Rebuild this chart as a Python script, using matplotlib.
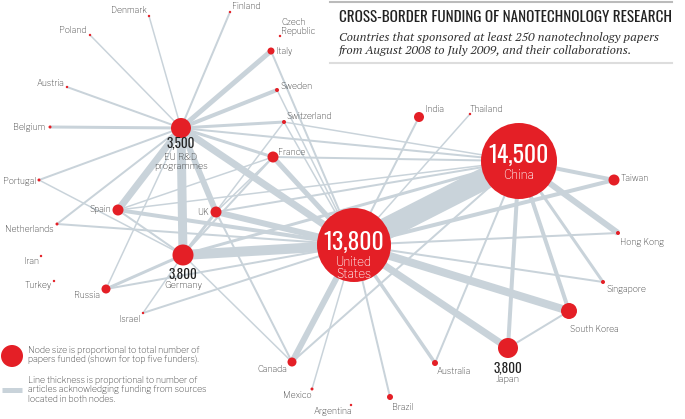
import matplotlib
matplotlib.use('Agg')
import matplotlib.pyplot as plt
from matplotlib.patches import Circle

RED = '#e41f26'
EDGE = '#c9d3da'
GREY = '#3c3c3c'

# nodes: name, x, y (layout), relative node size
names = ['China', 'United States', 'EU R&D programmes', 'Germany', 'Japan', 'South Korea',
         'Spain', 'UK', 'France', 'Italy', 'Sweden', 'Switzerland', 'Czech Republic',
         'Finland', 'Denmark', 'Poland', 'Austria', 'Belgium', 'Portugal', 'Netherlands',
         'Iran', 'Turkey', 'Russia', 'Israel', 'Canada', 'Mexico', 'Argentina', 'Brazil',
         'Australia', 'India', 'Thailand', 'Taiwan', 'Hong Kong', 'Singapore']
node_x = [519, 354, 181, 183, 508, 569, 118, 216, 273, 271, 277, 284, 280, 230, 149, 90,
          67, 50, 39, 57, 41, 54, 106, 143, 292, 312, 351, 390, 435, 419, 470, 614, 618, 603]
node_y = [161, 245, 128, 255, 348, 311, 210, 212, 157, 51, 90, 122, 36, 12, 16, 35,
          87, 127, 180, 224, 256, 281, 289, 313, 362, 389, 405, 397, 363, 117, 114, 180, 233, 282]
node_r = [38, 37, 10, 10.5, 10, 8, 5.5, 5.5, 5.5, 3.5, 2, 2, 1.2, 1.2, 1.2, 1.2,
          1.2, 1.5, 1.5, 1.5, 1.2, 1.2, 4.5, 1.2, 4.5, 1.5, 1.2, 3, 3, 5, 1.2, 5.5, 2, 2]

# top five funders (papers)
top_papers = {'China': '14,500', 'United States': '13,800', 'EU R&D programmes': '3,500',
              'Germany': '3,800', 'Japan': '3,800'}

# collaborations: (a, b, relative thickness)
edges = [
    ('United States', 'China', 22),
    ('EU R&D programmes', 'Germany', 9), ('United States', 'Germany', 10),
    ('EU R&D programmes', 'United States', 7), ('EU R&D programmes', 'Spain', 7),
    ('EU R&D programmes', 'UK', 6), ('United States', 'UK', 6),
    ('EU R&D programmes', 'Italy', 5), ('EU R&D programmes', 'Sweden', 4),
    ('EU R&D programmes', 'Switzerland', 3), ('EU R&D programmes', 'France', 3),
    ('EU R&D programmes', 'Belgium', 3), ('EU R&D programmes', 'Austria', 2),
    ('EU R&D programmes', 'Finland', 2), ('EU R&D programmes', 'Denmark', 1.5),
    ('EU R&D programmes', 'Poland', 1.5), ('EU R&D programmes', 'Portugal', 2),
    ('EU R&D programmes', 'Netherlands', 2), ('EU R&D programmes', 'China', 2),
    ('EU R&D programmes', 'Russia', 1.5),
    ('United States', 'France', 5), ('United States', 'Spain', 4),
    ('United States', 'Italy', 2), ('United States', 'Sweden', 1.5),
    ('United States', 'Switzerland', 1.5), ('United States', 'Canada', 6),
    ('United States', 'Mexico', 1.5), ('United States', 'Brazil', 2),
    ('United States', 'Australia', 3.5), ('United States', 'Japan', 7),
    ('United States', 'South Korea', 8), ('United States', 'Singapore', 2),
    ('United States', 'Hong Kong', 2), ('United States', 'Taiwan', 4),
    ('United States', 'India', 2), ('United States', 'Thailand', 1.5),
    ('United States', 'Russia', 2), ('United States', 'Israel', 2),
    ('United States', 'Netherlands', 2),
    ('China', 'Taiwan', 4), ('China', 'Hong Kong', 6), ('China', 'Singapore', 3),
    ('China', 'South Korea', 4), ('China', 'Japan', 4), ('China', 'Australia', 2),
    ('China', 'Canada', 2), ('China', 'Germany', 3), ('China', 'UK', 2),
    ('China', 'France', 2), ('China', 'Switzerland', 1.5), ('China', 'Spain', 1.5),
    ('Japan', 'South Korea', 2),
    ('Germany', 'Russia', 3), ('Germany', 'Israel', 1.5), ('Germany', 'Canada', 1.5),
    ('Germany', 'Spain', 2), ('Germany', 'UK', 3), ('Germany', 'Portugal', 1.5),
    ('Germany', 'Switzerland', 1.5), ('Germany', 'France', 2),
    ('UK', 'Canada', 2), ('UK', 'France', 1.5), ('Spain', 'France', 1.5),
]

# label placement: offset from node (px), horizontal alignment
label_pos = {
    'Denmark': (-2, -6, 'right'), 'Finland': (2, -6, 'left'), 'Poland': (-3, -5, 'right'),
    'Czech Republic': (1, -9, 'left'), 'Italy': (5, 0, 'left'), 'Sweden': (3, -4, 'left'),
    'Switzerland': (2, -6, 'left'), 'Austria': (-3, -4, 'right'), 'Belgium': (-5, 0, 'right'),
    'Portugal': (-3, 1, 'right'), 'Netherlands': (-3, 5, 'right'), 'Iran': (-2, 5, 'right'),
    'Turkey': (-2, 5, 'right'), 'Russia': (-6, 7, 'right'), 'Israel': (-3, 7, 'right'),
    'Spain': (-7, -1, 'right'), 'UK': (-7, 0, 'right'), 'France': (5, -5, 'left'),
    'Canada': (-20, 8, 'center'), 'Mexico': (-15, 6, 'center'), 'Argentina': (-18, 6, 'center'),
    'Brazil': (2, 11, 'left'), 'Australia': (2, 9, 'left'), 'South Korea': (25, 18, 'center'),
    'Singapore': (3, 8, 'left'), 'Hong Kong': (2, 9, 'left'), 'Taiwan': (7, -2, 'left'),
    'India': (6, -8, 'left'), 'Thailand': (0, -5, 'left'),
}

fig = plt.figure(figsize=(6.85, 4.19), dpi=100)
ax = fig.add_axes([0, 0, 1, 1])
ax.set_xlim(0, 685)
ax.set_ylim(419, 0)
ax.set_aspect('equal')
ax.axis('off')

idx = {n: i for i, n in enumerate(names)}
px = 0.72  # one pixel in points

for a, b, w in sorted(edges, key=lambda e: e[2]):
    i, j = idx[a], idx[b]
    ax.plot([node_x[i], node_x[j]], [node_y[i], node_y[j]], color=EDGE,
            lw=w * px, solid_capstyle='butt', zorder=1)

for n, x, y, r in zip(names, node_x, node_y, node_r):
    ax.add_patch(Circle((x, y), r, color=RED, lw=0, zorder=3))

sans = ['Libre Franklin', 'DejaVu Sans']
narrow = ['Oswald', 'Roboto Condensed', 'DejaVu Sans']

for n, (dx, dy, ha) in label_pos.items():
    i = idx[n]
    txt = 'Czech\nRepublic' if n == 'Czech Republic' else n
    ax.text(node_x[i] + dx, node_y[i] + dy, txt, ha=ha, va='center', fontsize=6.2,
            color=GREY, family=sans, linespacing=0.95, zorder=4)

# big nodes with white text inside
for n, sub, dy1, dy2 in [('China', 'China', -6, 14), ('United States', 'United\nStates', -3, 23)]:
    i = idx[n]
    ax.text(node_x[i], node_y[i] + dy1, top_papers[n], ha='center', va='center', fontsize=17,
            fontweight='bold', color='white', family=narrow, zorder=5)
    ax.text(node_x[i], node_y[i] + dy2, sub, ha='center', va='center', fontsize=8.5,
            color='white', family=sans, linespacing=0.95, zorder=5)

# smaller top funders with numbers below
for n, sub, dy in [('EU R&D programmes', 'EU R&D\nprogrammes', 15), ('Germany', 'Germany', 19),
                   ('Japan', 'Japan', 20)]:
    i = idx[n]
    ax.text(node_x[i], node_y[i] + dy, top_papers[n], ha='center', va='center', fontsize=9.5,
            fontweight='bold', color='#222222', family=narrow, zorder=5)
    ax.text(node_x[i], node_y[i] + dy + (19 if '\n' in sub else 12), sub, ha='center',
            va='center', fontsize=6.5, color=GREY, family=sans, linespacing=0.95, zorder=5)

# title block
ax.plot([330, 672], [2, 2], color='#bbbbbb', lw=1.5, zorder=6)
ax.plot([330, 672], [63, 63], color='#dddddd', lw=1.5, zorder=6)
ax.text(339, 17, 'CROSS-BORDER FUNDING OF NANOTECHNOLOGY RESEARCH', ha='left', va='center',
        fontsize=10.9, fontweight='bold', color='#222222', family=narrow, zorder=6)
ax.text(339, 44, 'Countries that sponsored at least 250 nanotechnology papers\n'
        'from August 2008 to July 2009, and their collaborations.', ha='left', va='center',
        fontsize=8.9, style='italic', color='#333333', family=['PT Serif', 'DejaVu Serif'],
        linespacing=1.1, zorder=6)

# legend
ax.add_patch(Circle((12, 356), 11, color=RED, lw=0, zorder=3))
ax.text(28, 355, 'Node size is proportional to total number of\npapers funded (shown for top five funders).',
        ha='left', va='center', fontsize=6.3, color=GREY, family=sans, linespacing=1.05)
ax.plot([2, 22], [390, 390], color=EDGE, lw=5 * px, solid_capstyle='butt')
ax.text(28, 390, 'Line thickness is proportional to number of\narticles acknowledging funding from sources\n'
        'located in both nodes.', ha='left', va='center', fontsize=6.3, color=GREY, family=sans,
        linespacing=1.05)

fig.savefig('out.png', dpi=100)
